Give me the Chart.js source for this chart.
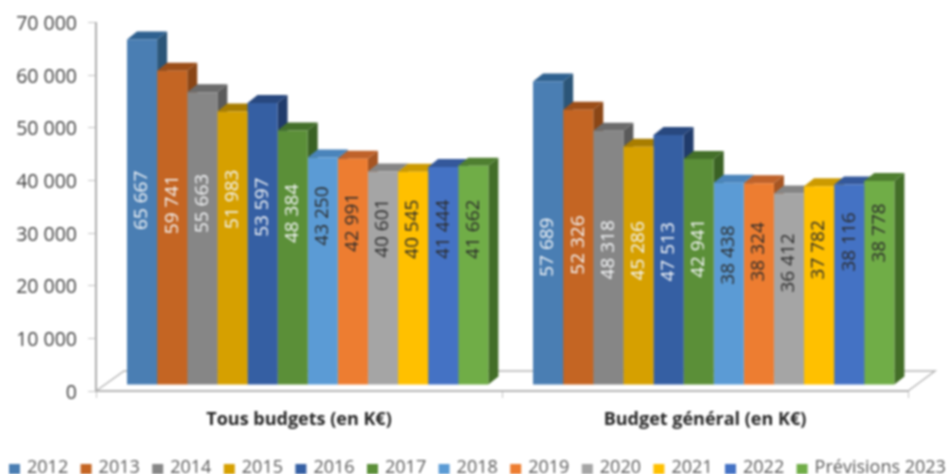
<!DOCTYPE html>
<html>
<head>
<meta charset="utf-8">
<script src="https://cdn.jsdelivr.net/npm/chart.js@4"></script>
<style>
    html, body { margin: 0; padding: 0; background: #fff; overflow: hidden; }
    canvas { display: block; filter: blur(0.8px); }
</style>
</head>
<body>
<canvas id="budgetChart" width="948" height="474"></canvas>
<script>
// Categories and legend entries
const categories = ['Tous budgets (en K€)', 'Budget général (en K€)'];
const years = ['2012', '2013', '2014', '2015', '2016', '2017', '2018', '2019', '2020', '2021', '2022', 'Prévisions 2023'];

// Values per group, one for each year
const tousBudgets = [65667, 59741, 55663, 51983, 53597, 48384, 43250, 42991, 40601, 40545, 41444, 41662];
const budgetGeneral = [57689, 52326, 48318, 45286, 47513, 42941, 38438, 38324, 36412, 37782, 38116, 38778];

// Height (in axis units) at which each value label sits
const tousLabelLevels = [35100, 34300, 34500, 35300, 33800, 32600, 32100, 30900, 29800, 29600, 29600, 29600];
const generalLabelLevels = [26200, 26600, 25700, 25500, 25300, 26000, 24700, 25300, 23200, 25700, 27200, 28900];

// Axis ticks
const yMin = 0;
const yMax = 70000;
const yStep = 10000;

// Colours: front, top and side face of each year
const frontColors = ['#4a7eb3', '#c46523', '#868686', '#d6a000', '#355fa3', '#5b8f38', '#5b9bd5', '#ed7d31', '#a5a5a5', '#ffc000', '#4472c4', '#70ad47'];
const topColors = ['#2f6190', '#9c4e18', '#6b6b6b', '#a87d00', '#28487f', '#44702a', '#4a84bb', '#bf622a', '#858585', '#cc9a00', '#34589b', '#4f7f30'];
const sideColors = ['#2b5578', '#8a4616', '#5a5a5a', '#957000', '#203b6b', '#3a6124', '#3d729f', '#a65522', '#747474', '#b38600', '#2c4c85', '#436e28'];

// Fake 3D: how far the back of a bar sits from its front, and how far the front plane sits off the axes
const depthX = 10;
const depthY = -8;
const frontX = 8.7;
const frontY = -6;

function formatNumber(v) {
    return String(v).replace(/\B(?=(\d{3})+$)/g, ' ');
}

const fake3d = {
    id: 'fake3d',
    beforeDatasetsDraw(chart) {
        const ctx = chart.ctx;
        const area = chart.chartArea;

        // Floor
        ctx.save();
        ctx.strokeStyle = '#b5b5b5';
        ctx.lineWidth = 1.5;
        ctx.beginPath();
        ctx.moveTo(area.left, area.bottom);
        ctx.lineTo(area.left + 28, area.bottom - 20);
        ctx.lineTo(area.right + 27, area.bottom - 20);
        ctx.lineTo(area.right, area.bottom);
        ctx.stroke();
        ctx.restore();

        // Everything in the bars' layer moves onto the front plane
        ctx.save();
        ctx.translate(frontX, frontY);

        // Top and side faces go first, the fronts of the next bars cover them
        chart.data.datasets.forEach((ds, i) => {
            chart.getDatasetMeta(i).data.forEach((bar) => {
                const right = bar.x + bar.width / 2;
                const left = bar.x - bar.width / 2;
                ctx.fillStyle = sideColors[i];
                ctx.beginPath();
                ctx.moveTo(right, bar.y);
                ctx.lineTo(right + depthX, bar.y + depthY);
                ctx.lineTo(right + depthX, bar.base + depthY);
                ctx.lineTo(right, bar.base);
                ctx.closePath();
                ctx.fill();
                ctx.fillStyle = topColors[i];
                ctx.beginPath();
                ctx.moveTo(left, bar.y);
                ctx.lineTo(left + depthX, bar.y + depthY);
                ctx.lineTo(right + depthX, bar.y + depthY);
                ctx.lineTo(right, bar.y);
                ctx.closePath();
                ctx.fill();
            });
        });
    },
    afterDatasetsDraw(chart) {
        const ctx = chart.ctx;
        const yScale = chart.scales.y;
        const levels = [tousLabelLevels, generalLabelLevels];

        // Value labels, turned to read upwards
        ctx.font = '19px "Open Sans"';
        ctx.textAlign = 'center';
        ctx.textBaseline = 'middle';
        chart.data.datasets.forEach((ds, i) => {
            chart.getDatasetMeta(i).data.forEach((bar, g) => {
                ctx.save();
                ctx.translate(bar.x, yScale.getPixelForValue(levels[g][i]));
                ctx.rotate(-Math.PI / 2);
                ctx.fillStyle = i < 6 ? '#f4f6f8' : '#2b2b2b';
                ctx.fillText(formatNumber(ds.data[g]), 0, 0);
                ctx.restore();
            });
        });
        ctx.restore();
    },
    afterDraw(chart) {
        // One legend row that runs the full width and is cut by the bottom edge, which the built-in legend won't do
        const ctx = chart.ctx;
        ctx.save();
        ctx.font = '18px "Open Sans"';
        ctx.textAlign = 'left';
        ctx.textBaseline = 'middle';
        years.forEach((year, i) => {
            const x = 9 + i * 71.6;
            ctx.fillStyle = frontColors[i];
            ctx.fillRect(x, 464, 11, 11);
            ctx.fillStyle = '#595959';
            ctx.fillText(year, x + 18, 468);
        });
        ctx.restore();
    }
};

new Chart(document.getElementById('budgetChart').getContext('2d'), {
    type: 'bar',
    data: {
        labels: categories,
        datasets: years.map((year, i) => ({
            label: year,
            data: [tousBudgets[i], budgetGeneral[i]],
            backgroundColor: frontColors[i],
            borderWidth: 0,
            barPercentage: 1,
            categoryPercentage: 0.89
        }))
    },
    options: {
        responsive: false,
        animation: false,
        layout: { padding: { top: 20, right: 40, left: 0, bottom: 0 } },
        plugins: {
            tooltip: { enabled: false },
            legend: { display: false }
        },
        scales: {
            x: {
                afterFit(scale) { scale.height = 83; },
                grid: { drawOnChartArea: false, color: '#c4c4c4', tickLength: 7 },
                border: { color: '#b5b5b5', width: 2 },
                ticks: {
                    color: '#262626',
                    padding: 11,
                    font: { family: '"Open Sans"', size: 18, weight: 'bold' }
                }
            },
            y: {
                min: yMin,
                max: yMax,
                afterFit(scale) { scale.width = 96; },
                grid: { drawOnChartArea: false, color: '#c4c4c4', tickLength: 8 },
                border: { color: '#adadad', width: 2 },
                ticks: {
                    stepSize: yStep,
                    color: '#404040',
                    padding: 11,
                    labelOffset: 2,
                    font: { family: '"Open Sans"', size: 19.5 },
                    callback: (v) => formatNumber(v)
                }
            }
        }
    },
    plugins: [fake3d]
});
</script>
</body>
</html>
